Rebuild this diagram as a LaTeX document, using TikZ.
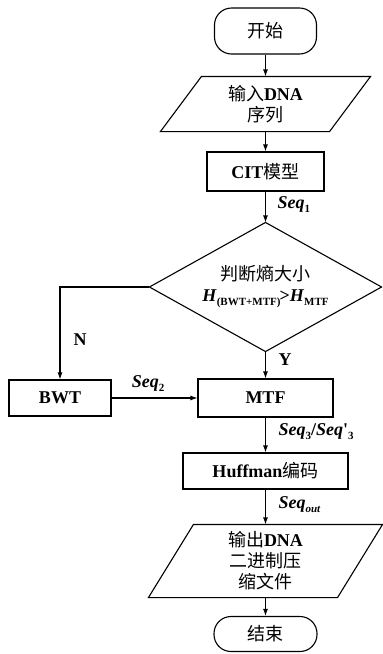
\documentclass[tikz,border=0pt]{standalone}
\usepackage{fontspec}
\setmainfont{Liberation Serif}
\newfontfamily\cjk{Noto Sans CJK SC}
\newcommand\zh[1]{{\cjk\mdseries #1}}
\newcommand\lowsub[1]{\raisebox{-4pt}{\fontsize{11}{11}\selectfont #1}}
\usetikzlibrary{arrows.meta,calc}
\begin{document}
\begin{tikzpicture}[x=1pt,y=-1pt,line width=1.1pt,
  txt/.style={font=\fontsize{18}{21}\selectfont\bfseries,align=center,inner sep=0pt},
  box/.style={txt,draw,rectangle},
  term/.style={box,rounded corners=17pt},
  ghost/.style={txt,rectangle},
  arr/.style={-{Latex[length=7pt,width=5pt]}},
  lab/.style={font=\fontsize{18}{20}\selectfont\bfseries,inner sep=0pt}
]
\useasboundingbox (0,0) rectangle (383,654);
% nodes
\node[term,minimum width=102pt,minimum height=46pt] (start) at (265.5,31) {\zh{开始}};
\node[ghost,minimum width=168pt,minimum height=54pt] (in) at (265.5,104) {\zh{输入}DNA\\\zh{序列}};
\draw ($(in.north west)+(20.5,0)$) -- ($(in.north east)+(20.5,0)$) -- ($(in.south east)+(-20.5,0)$) -- ($(in.south west)+(-20.5,0)$) -- cycle;
\node[box,minimum width=117pt,minimum height=39pt] (cit) at (265.5,171.5) {CIT\zh{模型}};
\node[ghost,minimum width=231pt,minimum height=128pt] (dia) at (265.5,287) {\zh{判断熵大小}\\\textit{H}\lowsub{(BWT+MTF)}\kern-1pt>\textit{H}\lowsub{MTF}};
\draw (dia.north) -- (dia.east) -- (dia.south) -- (dia.west) -- cycle;
\node[box,minimum width=102pt,minimum height=36pt] (bwt) at (60,398) {BWT};
\node[box,minimum width=135pt,minimum height=38pt] (mtf) at (265.5,398) {MTF};
\node[box,minimum width=165pt,minimum height=36pt] (huf) at (265.5,471) {Huffman\zh{编码}};
\node[ghost,minimum width=188pt,minimum height=72pt] (out) at (265.5,561) {\zh{输出}DNA\\\zh{二进制压}\\\zh{缩文件}};
\draw ($(out.north west)+(22.5,0)$) -- ($(out.north east)+(22.5,0)$) -- ($(out.south east)+(-22.5,0)$) -- ($(out.south west)+(-22.5,0)$) -- cycle;
\node[term,minimum width=103pt,minimum height=35pt] (end) at (265.5,634) {\zh{结束}};
% connectors
\draw[arr] (start) -- (in);
\draw[arr] (in) -- (cit);
\draw[arr] (cit) -- (dia);
\draw[arr] (dia) -- (mtf);
\draw[arr] (dia.west) -| (bwt.north);
\draw[arr] (bwt) -- (mtf);
\draw[arr] (mtf) -- (huf);
\draw[arr] (huf) -- (out);
\draw[arr] (out) -- (end);
% labels
\node[lab,anchor=west] (l1) at (277,205) {\textit{Seq}\lowsub{1}};
\node[lab] (ln) at (80,340) {N};
\node[lab] (ly) at (285,360) {Y};
\node[lab] (l2) at (148,384) {\textit{Seq}\lowsub{2}};
\node[lab,anchor=west] (l3) at (278,432) {\textit{Seq}\lowsub{3}/\textit{Seq}\textquotesingle\lowsub{3}};
\node[lab,anchor=west] (lo) at (278,505) {\textit{Seq}\lowsub{\textit{out}}};
\end{tikzpicture}
\end{document}
